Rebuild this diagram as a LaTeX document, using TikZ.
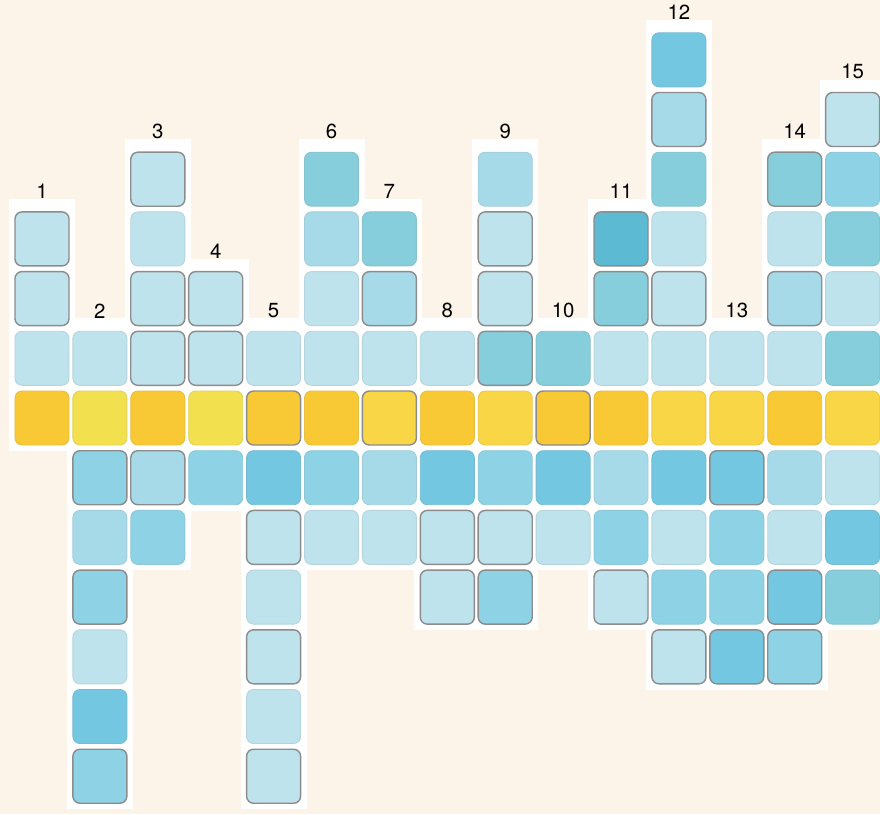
\documentclass[tikz,border=0pt]{standalone}
\usepackage{fontspec}
\setmainfont{TeX Gyre Heros}
\usepackage{xcolor}
\usepackage{tikz}
\usetikzlibrary{positioning}
\definecolor{cream}{HTML}{FCF4E9}
\definecolor{pale}{HTML}{BEE3EC}
\definecolor{light}{HTML}{A7DAE9}
\definecolor{mid}{HTML}{8ED2E6}
\definecolor{deep}{HTML}{73C7E0}
\definecolor{teal}{HTML}{86CEDB}
\definecolor{darkteal}{HTML}{5CBBD2}
\definecolor{yorange}{HTML}{F8C935}
\definecolor{ylemon}{HTML}{F2E04E}
\definecolor{ysun}{HTML}{F9D645}
\tikzset{
  tile/.style={minimum size=0.54cm, inner sep=0pt, rounded corners=2pt,
    fill=#1, draw=#1!85!gray, line width=0.25pt},
  inked/.style={draw=black!45, line width=0.4pt},
  pa/.style={tile=pale}, pak/.style={tile=pale, inked},
  li/.style={tile=light}, lik/.style={tile=light, inked},
  mi/.style={tile=mid}, mik/.style={tile=mid, inked},
  de/.style={tile=deep}, dek/.style={tile=deep, inked},
  te/.style={tile=teal}, tek/.style={tile=teal, inked},
  dtk/.style={tile=darkteal, inked},
  yo/.style={tile=yorange}, yok/.style={tile=yorange, inked},
  yl/.style={tile=ylemon},
  ys/.style={tile=ysun}, ysk/.style={tile=ysun, inked},
  num/.style={inner sep=0pt, font=\fontsize{5.8}{7}\selectfont},
}
% column / top row / bottom row / tiles from top to bottom
\def\columns{
  1/-3/0/{pak,pak,pa,yo},
  2/-1/6/{pa,yl,mik,li,mik,pa,de,mik},
  3/-4/2/{pak,pa,pak,pak,yo,lik,mi},
  4/-2/1/{pak,pak,yl,mi},
  5/-1/6/{pa,yok,de,pak,pa,pak,pa,pak},
  6/-4/2/{te,li,pa,pa,yo,mi,pa},
  7/-3/2/{te,lik,pa,ysk,li,pa},
  8/-1/3/{pa,yo,de,pak,pak},
  9/-4/3/{li,pak,pak,tek,ys,mi,pak,mik},
  10/-1/2/{te,yok,de,pa},
  11/-3/3/{dtk,tek,pa,yo,li,mi,pak},
  12/-6/4/{de,lik,te,pa,pak,pa,ys,de,pa,mi,pak},
  13/-1/4/{pa,ys,dek,mi,mi,dek},
  14/-4/4/{tek,pa,lik,pa,yo,li,pa,dek,mik},
  15/-5/3/{pak,mi,te,pa,te,ys,pa,de,te}}

\begin{document}
\begin{tikzpicture}[x=0.01cm, y=-0.01cm]
  % Background
  \useasboundingbox (0,0) rectangle (880,814);
  \fill[cream] (0,0) rectangle (880,814);
  \clip (0,0) rectangle (880,814);

  % White paper behind every column
  \foreach \c/\t/\b/\list in \columns {
    \pgfmathsetmacro{\xc}{42+57.9*(\c-1)}
    \fill[white] (\xc-33, 418+59.7*\t-40) rectangle (\xc+33, 418+59.7*\b+33);
  }

  % Tiles and numbers
  \foreach \c/\t/\b/\list in \columns {
    \pgfmathsetmacro{\xc}{42+57.9*(\c-1)}
    \foreach \s [count=\i] in \list {
      \pgfmathsetmacro{\yc}{418+59.7*(\t+\i-1)}
      \node[\s] (cell-\c-\i) at (\xc,\yc) {};
    }
    \node[num, above=3.4pt of cell-\c-1] (num-\c) {\c};
  }
\end{tikzpicture}
\end{document}
